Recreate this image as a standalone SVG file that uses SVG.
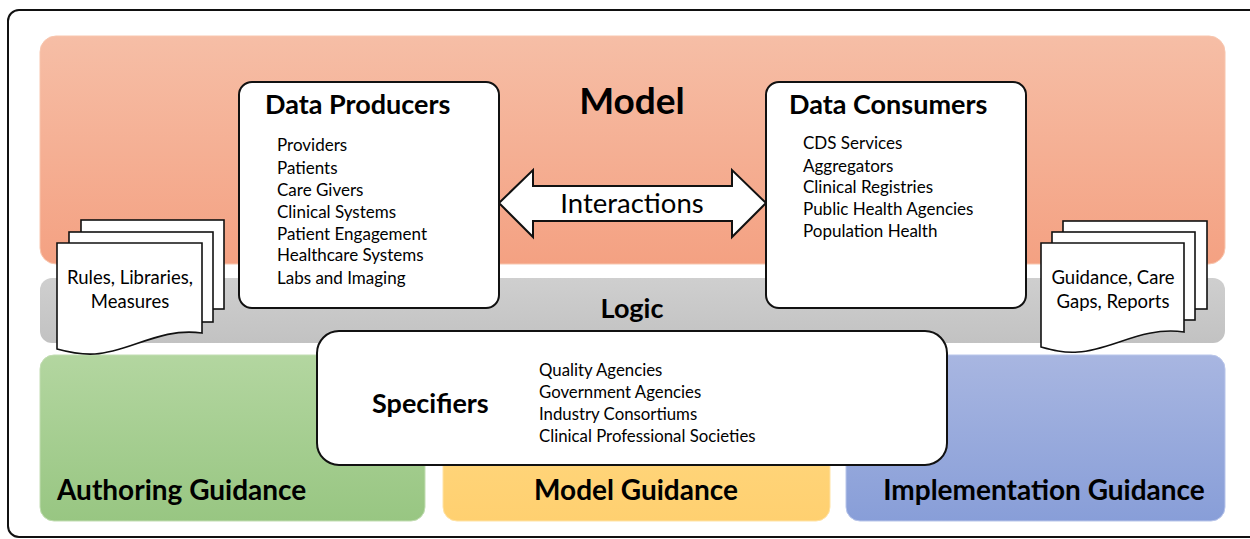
<svg xmlns="http://www.w3.org/2000/svg" width="1250" height="539" viewBox="0 0 1250 539">
<defs>
<linearGradient id="gModel" x1="0" y1="0" x2="0" y2="1"><stop offset="0" stop-color="#f6bea6"/><stop offset="1" stop-color="#f4a182"/></linearGradient>
<linearGradient id="gGreen" x1="0" y1="0" x2="0" y2="1"><stop offset="0" stop-color="#b3d6a0"/><stop offset="1" stop-color="#98c682"/></linearGradient>
<linearGradient id="gYellow" x1="0" y1="0" x2="0" y2="1"><stop offset="0" stop-color="#ffdb88"/><stop offset="1" stop-color="#ffd070"/></linearGradient>
<linearGradient id="gBlue" x1="0" y1="0" x2="0" y2="1"><stop offset="0" stop-color="#a8b6e1"/><stop offset="1" stop-color="#889ed8"/></linearGradient>
<linearGradient id="gGray" x1="0" y1="0" x2="0" y2="1"><stop offset="0" stop-color="#cfcfcf"/><stop offset="1" stop-color="#c2c2c2"/></linearGradient>
</defs>
<style>
text{font-family:Lato,"Open Sans","Liberation Sans",sans-serif;fill:#000}
.box{fill:#fff;stroke:#111;stroke-width:2}
.doc{fill:#fff;stroke:#111;stroke-width:1.6}
.h{font-weight:bold;font-size:27px}
.g{font-weight:bold;font-size:28px}
.big{font-weight:bold;font-size:37px}
.item{font-size:17px}
.sitem{font-size:16.8px}
.doct{font-size:18.5px;text-anchor:middle}
.mid{text-anchor:middle}
</style>
<rect id="frame" x="8" y="10" width="1260" height="527" rx="11" fill="#fff" stroke="#111" stroke-width="2"/>
<g id="model-band">
<rect x="40" y="36" width="1185" height="228" rx="16" fill="url(#gModel)" stroke="#f8c6ae" stroke-width="1"/>
<text class="big mid" x="632" y="114">Model</text>
</g>
<g id="logic-band">
<rect x="40" y="278" width="1185" height="65" rx="12" fill="url(#gGray)"/>
<text class="h mid" x="632" y="318">Logic</text>
</g>
<g id="authoring-guidance">
<rect x="40" y="355" width="385" height="166" rx="14" fill="url(#gGreen)" stroke="#c2ddb2" stroke-width="1"/>
<text class="g" x="57" y="500">Authoring Guidance</text>
</g>
<g id="model-guidance">
<rect x="443" y="355" width="387" height="166" rx="14" fill="url(#gYellow)" stroke="#ffe3a6" stroke-width="1"/>
<text class="g mid" x="636" y="500">Model Guidance</text>
</g>
<g id="implementation-guidance">
<rect x="846" y="355" width="379" height="166" rx="14" fill="url(#gBlue)" stroke="#b8c5ea" stroke-width="1"/>
<text class="g mid" x="1044" y="500">Implementation Guidance</text>
</g>
<g id="connectors">
<path id="interactions" d="M499,203 L533,170 L533,186 L732,186 L732,170 L766,203 L732,237 L732,221 L533,221 L533,237 Z" fill="#fff" stroke="#111" stroke-width="2" stroke-linejoin="miter"/>
<text x="632" y="213" class="mid" style="font-size:27.5px">Interactions</text>
</g>
<g id="data-producers">
<rect class="box" x="239" y="82" width="260" height="226" rx="13"/>
<text class="h" x="265" y="114">Data Producers</text>
<text class="item" x="277" y="151">Providers</text>
<text class="item" x="277" y="174">Patients</text>
<text class="item" x="277" y="196">Care Givers</text>
<text class="item" x="277" y="218">Clinical Systems</text>
<text class="item" x="277" y="240">Patient Engagement</text>
<text class="item" x="277" y="261">Healthcare Systems</text>
<text class="item" x="277" y="284">Labs and Imaging</text>
</g>
<g id="data-consumers">
<rect class="box" x="766" y="82" width="260" height="226" rx="13"/>
<text class="h" x="789" y="114">Data Consumers</text>
<text class="item" x="803" y="149">CDS Services</text>
<text class="item" x="803" y="172">Aggregators</text>
<text class="item" x="803" y="193">Clinical Registries</text>
<text class="item" x="803" y="215">Public Health Agencies</text>
<text class="item" x="803" y="237">Population Health</text>
</g>
<g id="rules-docs">
<rect class="doc" x="81" y="220" width="143" height="89"/>
<rect class="doc" x="69" y="232" width="144" height="90"/>
<path class="doc" d="M57,243 H202 V333 C160,327 130,352 95,354 C80,355 68,352 57,349 Z"/>
<text class="doct" x="130" y="284">Rules, Libraries,</text>
<text class="doct" x="130" y="308">Measures</text>
</g>
<g id="guidance-docs">
<rect class="doc" x="1063" y="221" width="144" height="88"/>
<rect class="doc" x="1052" y="232" width="143" height="88"/>
<path class="doc" d="M1041,243 H1184 V332 C1142,326 1112,350 1078,352 C1063,353 1052,350 1041,347 Z"/>
<text class="doct" x="1113" y="284">Guidance, Care</text>
<text class="doct" x="1113" y="308">Gaps, Reports</text>
</g>
<g id="specifiers">
<rect class="box" x="317" y="331" width="630" height="134" rx="22"/>
<text class="h" x="372" y="413">Specifiers</text>
<text class="sitem" x="539" y="376">Quality Agencies</text>
<text class="sitem" x="539" y="398">Government Agencies</text>
<text class="sitem" x="539" y="420">Industry Consortiums</text>
<text class="sitem" x="539" y="442">Clinical Professional Societies</text>
</g>
</svg>
